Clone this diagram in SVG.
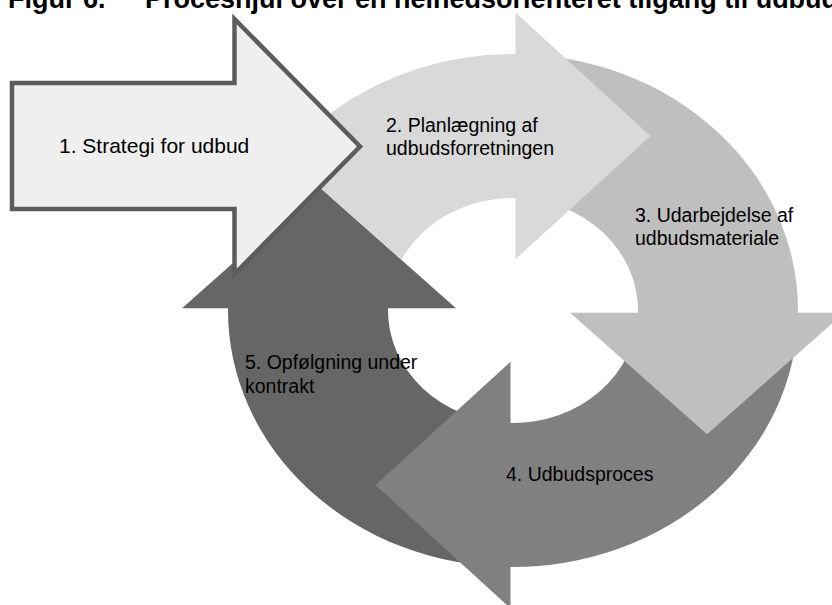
<svg xmlns="http://www.w3.org/2000/svg" width="832" height="605" viewBox="0 0 832 605">
  <style>
    .title { font-family: "Liberation Sans", Arial, sans-serif; font-weight: bold; font-size: 27px; fill: #000; }
    .label { font-family: "Liberation Sans", Arial, sans-serif; font-size: 19.5px; fill: #000; }
    .label-lg { font-family: "Liberation Sans", Arial, sans-serif; font-size: 21px; fill: #000; }
    .ring { stroke: none; }
  </style>

  <rect width="832" height="605" fill="#ffffff"/>

  <!-- Heading, partly cut off by the top edge -->
  <text class="title" y="7.5"><tspan x="8">Figur 6.</tspan><tspan x="145">Proceshjul over en helhedsorienteret tilgang til udbud</tspan></text>

  <!-- Ring arrows: drawn in a circle frame centred at (513,310.5), squashed vertically to 0.9.
       Each head lies over the tail of the following arrow. -->
  <g id="step5">
    <path class="ring" fill="#666666" transform="translate(513 310.5) scale(1 0.9)"
          d="M -2.5 284.99 A 285 285 0 0 1 -284.99 -2.5 L -331 -2.5 L -194 -137.5 L -57 -2.5 L -124.97 -2.5 A 125 125 0 0 0 -2.5 124.97 Z"/>
    <text class="label" x="245" y="369.3">5. Opfølgning under</text>
    <text class="label" x="245" y="392.7">kontrakt</text>
  </g>

  <g id="step4">
    <path class="ring" fill="#808080" transform="translate(513 310.5) scale(1 0.9)"
          d="M 284.99 2.5 A 285 285 0 0 1 -2.5 284.99 L -2.5 331 L -137.5 194 L -2.5 57 L -2.5 124.97 A 125 125 0 0 0 124.97 2.5 Z"/>
    <text class="label" x="506" y="481">4. Udbudsproces</text>
  </g>

  <g id="step3">
    <path class="ring" fill="#bfbfbf" transform="translate(513 310.5) scale(1 0.9)"
          d="M 2.5 -284.99 A 285 285 0 0 1 284.99 2.5 L 331 2.5 L 194 137.5 L 57 2.5 L 124.97 2.5 A 125 125 0 0 0 2.5 -124.97 Z"/>
    <text class="label" x="635" y="221.5">3. Udarbejdelse af</text>
    <text class="label" x="635" y="244.5">udbudsmateriale</text>
  </g>

  <!-- tail is cut along the head of step 5 so that head stays on top -->
  <g id="step2">
    <path class="ring" fill="#d9d9d9" transform="translate(513 310.5) scale(1 0.9)"
          d="M -280.1 -52.67 A 285 285 0 0 1 2.5 -284.99 L 2.5 -331 L 137.5 -194 L 2.5 -57 L 2.5 -124.97 A 125 125 0 0 0 -111.6 -56.3 L -194 -137.5 Z"/>
    <text class="label" x="386" y="131.5">2. Planlægning af</text>
    <text class="label" x="386" y="154.5">udbudsforretningen</text>
  </g>

  <!-- Entry arrow on top of the ring -->
  <g id="step1">
    <path fill="#efefef" stroke="#5c5c5c" stroke-width="4.5" stroke-linejoin="miter" stroke-miterlimit="10"
          d="M 12 83 L 234.5 83 L 234.5 19 L 360 146.5 L 234.5 274 L 234.5 209 L 12 209 Z"/>
    <text class="label-lg" x="59" y="153">1. Strategi for udbud</text>
  </g>
</svg>
